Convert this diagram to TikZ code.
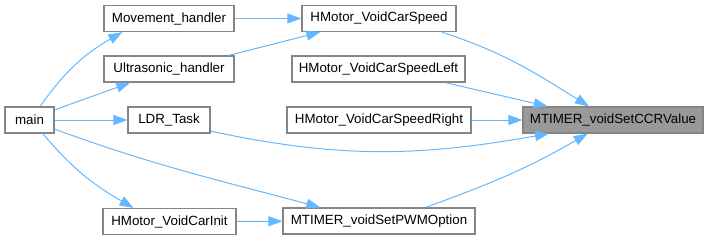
\documentclass[tikz,border=0pt]{standalone}
\usepackage{fontspec}
\setmainfont{Liberation Sans}
\usetikzlibrary{arrows.meta}
\definecolor{callblue}{HTML}{63B8FF}
\definecolor{boxgray}{HTML}{858585}
\definecolor{rootgray}{HTML}{999999}

\begin{document}
\begin{tikzpicture}[x=0.75pt,y=-0.75pt,
  fn/.style={draw=boxgray,line width=0.9pt,fill=white,minimum height=19.5pt,
    inner sep=0pt,font=\fontsize{10}{12}\selectfont},
  root/.style={fn,fill=rootgray},
  call/.style={draw=callblue,line width=0.75pt,
    -{Triangle[length=10.5pt,width=7.5pt]}}]
\useasboundingbox (0,0) rectangle (709,240);
% callers
\node[fn,minimum width=36.75pt] (main) at (29.5,120) {main};
\node[fn,minimum width=97.5pt] (movement) at (169,18.5) {Movement\_handler};
\node[fn,minimum width=97.5pt] (ultrasonic) at (169,69) {Ultrasonic\_handler};
\node[fn,minimum width=61.5pt] (ldr) at (169,120) {LDR\_Task};
\node[fn,minimum width=99.75pt] (carinit) at (169.5,221.5) {HMotor\_VoidCarInit};
\node[fn,minimum width=115.5pt] (speed) at (379,18.5) {HMotor\_VoidCarSpeed};
\node[fn,minimum width=129.75pt] (speedleft) at (378.5,69) {HMotor\_VoidCarSpeedLeft};
\node[fn,minimum width=138pt] (speedright) at (379,120) {HMotor\_VoidCarSpeedRight};
\node[fn,minimum width=144pt] (pwm) at (379,221) {MTIMER\_voidSetPWMOption};
% the called function
\node[root,minimum width=135pt] (ccr) at (613,120) {MTIMER\_voidSetCCRValue};

% calls out of main
\draw[call] ([xshift=8pt]main.north) to[out=55,in=-150] ([xshift=-35pt]movement.south);
\draw[call] (main.22) -- ([xshift=-29pt]ultrasonic.south);
\draw[call] (main) -- (ldr);
\draw[call] (main.-20) to[out=-20,in=165] ([xshift=-44pt]pwm.north);
\draw[call] ([xshift=10pt]main.south) to[out=-50,in=150] ([xshift=-27pt]carinit.north);
% second level
\draw[call] (movement) -- (speed);
\draw[call] ([xshift=-4.5pt]ultrasonic.north east) -- ([xshift=-44pt]speed.south);
\draw[call] (carinit) -- (pwm);
% into MTIMER_voidSetCCRValue
\draw[call] ([xshift=47pt]speed.south) to[out=-18,in=148] ([xshift=-18pt]ccr.north);
\draw[call] ([xshift=50pt]speedleft.south) -- ([xshift=-49pt]ccr.north);
\draw[call] (speedright) -- (ccr);
\draw[call] (ldr.-15) to[out=-12,in=190] ([xshift=-48pt]ccr.south);
\draw[call] ([xshift=35pt]pwm.north) to[out=20,in=-150] ([xshift=-19pt]ccr.south);
\end{tikzpicture}
\end{document}
